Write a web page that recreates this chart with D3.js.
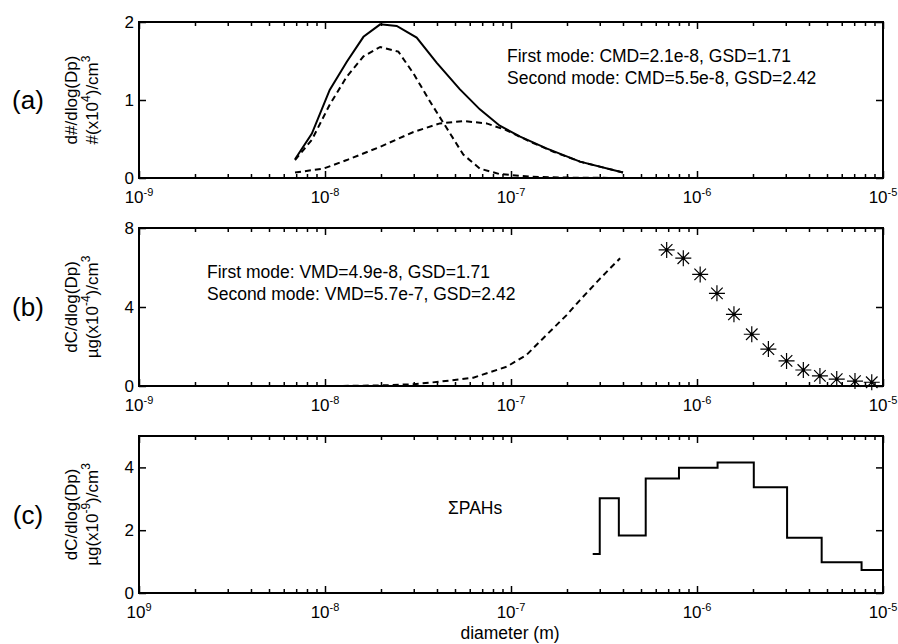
<!DOCTYPE html>
<html>
<head>
<meta charset="utf-8">
<script src="https://cdn.jsdelivr.net/npm/d3@7"></script>
<style>
  body { margin: 0; background: #fff; }
  svg { display: block; font-family: "Liberation Sans", Arial, sans-serif; }
</style>
</head>
<body>
<div id="root"></div>
<script>
// ---- data ----
// (a) number distribution, #(x10^4)/cm3
const totalDiam = [6.9e-9, 8.5e-9, 1.06e-8, 1.31e-8, 1.61e-8, 1.98e-8, 2.43e-8, 3.11e-8, 3.98e-8, 5.3e-8, 6.8e-8, 8.7e-8, 1.12e-7, 1.55e-7, 2.35e-7, 4.0e-7]
const totalNum = [0.24, 0.57, 1.13, 1.49, 1.81, 1.97, 1.95, 1.80, 1.48, 1.14, 0.88, 0.67, 0.53, 0.38, 0.21, 0.07]
const mode1Diam = [6.9e-9, 8.5e-9, 1.06e-8, 1.31e-8, 1.61e-8, 1.98e-8, 2.48e-8, 2.99e-8, 3.67e-8, 4.51e-8, 5.54e-8, 6.8e-8, 8.7e-8, 1.27e-7, 2.0e-7, 4.0e-7]
const mode1Num = [0.23, 0.49, 0.94, 1.30, 1.56, 1.68, 1.62, 1.34, 0.98, 0.64, 0.30, 0.12, 0.05, 0.017, 0.005, 0.0]
const mode2Diam = [6.9e-9, 9.8e-9, 1.31e-8, 1.98e-8, 2.99e-8, 4.15e-8, 5.54e-8, 7.39e-8, 9.4e-8, 1.27e-7, 1.69e-7, 2.35e-7, 4.0e-7]
const mode2Num = [0.07, 0.12, 0.23, 0.40, 0.59, 0.70, 0.73, 0.70, 0.615, 0.465, 0.337, 0.21, 0.07]

// (b) mass distribution, ug(x10^-4)/cm3
const massDashDiam = [1.1e-8, 2e-8, 3e-8, 4.15e-8, 6.27e-8, 9.5e-8, 1.21e-7, 1.55e-7, 1.99e-7, 2.35e-7, 3.02e-7, 3.86e-7]
const massDashConc = [0.0, 0.03, 0.09, 0.22, 0.42, 0.98, 1.57, 2.58, 3.59, 4.35, 5.45, 6.47]
const starDiam = [6.87e-7, 8.44e-7, 1.04e-6, 1.28e-6, 1.58e-6, 1.97e-6, 2.42e-6, 3.03e-6, 3.73e-6, 4.58e-6, 5.64e-6, 7.07e-6, 8.7e-6]
const starConc = [6.89, 6.47, 5.65, 4.69, 3.63, 2.62, 1.87, 1.27, 0.81, 0.51, 0.35, 0.25, 0.19]

// (c) sum of PAHs per stage, ug(x10^-9)/cm3
const binEdges = [2.75e-7, 3.0e-7, 3.8e-7, 5.3e-7, 8.0e-7, 1.29e-6, 2.02e-6, 3.05e-6, 4.68e-6, 7.67e-6, 1e-5]
const binConc = [1.24, 3.02, 1.83, 3.65, 3.99, 4.16, 3.37, 1.76, 0.98, 0.73]

// axes
const xMajor = [1e-9, 1e-8, 1e-7, 1e-6, 1e-5]
const xExpA = ["-9", "-8", "-7", "-6", "-5"]
const xExpC = ["9", "-8", "-7", "-6", "-5"]   // the printed figure drops the minus on 10^9
const yDomainA = [0, 2], yTicksA = [0, 1, 2]
const yDomainB = [0, 8], yTicksB = [0, 4, 8]
const yDomainC = [0, 5], yTicksC = [0, 2, 4]

const textA = ["First mode: CMD=2.1e-8, GSD=1.71", "Second mode: CMD=5.5e-8, GSD=2.42"]
const textB = ["First mode: VMD=4.9e-8, GSD=1.71", "Second mode: VMD=5.7e-7, GSD=2.42"]

// ---- drawing ----
const width = 898, height = 644
const left = 139, right = 883

const svg = d3.select("#root").append("svg").attr("width", width).attr("height", height)

const x = d3.scaleLog().domain([1e-9, 1e-5]).range([left, right])

// minor log ticks 2..9 per decade
const xMinor = []
for (let k = -9; k < -5; k++) {
    for (let m = 2; m < 10; m++) xMinor.push(m * Math.pow(10, k))
}

function makePanel(top, bottom, yDomain, yTicks, exps, letter, labelLines) {
    const y = d3.scaleLinear().domain(yDomain).range([bottom, top])
    const g = svg.append("g")

    // ticks, all pointing inward
    const axes = [
        [d3.axisBottom(x).tickValues(xMajor).tickSize(-7), `translate(0,${bottom})`],
        [d3.axisBottom(x).tickValues(xMinor).tickSize(-4), `translate(0,${bottom})`],
        [d3.axisTop(x).tickValues(xMajor).tickSize(-7), `translate(0,${top})`],
        [d3.axisTop(x).tickValues(xMinor).tickSize(-4), `translate(0,${top})`],
        [d3.axisRight(y).tickValues(yTicks).tickSize(-7), `translate(${right},0)`]
    ]
    axes.forEach(([ax, tr]) => {
        const a = g.append("g").attr("transform", tr).call(ax.tickFormat(""))
        a.select(".domain").remove()
        a.selectAll("line").attr("stroke", "#000").attr("stroke-width", 1.5)
    })
    const yl = g.append("g").attr("transform", `translate(${left},0)`)
        .call(d3.axisLeft(y).tickValues(yTicks).tickSize(-7).tickPadding(5).tickFormat(d3.format("d")))
    yl.select(".domain").remove()
    yl.selectAll("line").attr("stroke", "#000").attr("stroke-width", 1.5)
    yl.selectAll("text").attr("font-size", 17).attr("fill", "#000").attr("font-family", null)

    // x tick labels like 10^-8
    xMajor.forEach((v, i) => {
        const t = g.append("text").attr("x", x(v)).attr("y", bottom + 25)
            .attr("text-anchor", "middle").attr("font-size", 17)
        t.append("tspan").text("10")
        t.append("tspan").attr("dy", -7).attr("font-size", 11).text(exps[i])
    })

    // frame
    g.append("rect").attr("x", left).attr("y", top)
        .attr("width", right - left).attr("height", bottom - top)
        .attr("fill", "none").attr("stroke", "#000").attr("stroke-width", 2)

    // panel letter
    g.append("text").attr("x", 28).attr("y", (top + bottom) / 2 + 9)
        .attr("text-anchor", "middle").attr("font-size", 26).text(letter)

    // two-line rotated y label, superscripts shift up then back down
    const cy = (top + bottom) / 2
    labelLines.forEach((parts, i) => {
        const t = g.append("text")
            .attr("transform", `translate(${i == 0 ? 77 : 98},${cy}) rotate(-90)`)
            .attr("text-anchor", "middle").attr("font-size", 17)
        let shift = 0
        parts.forEach(p => {
            if (p.sup) {
                t.append("tspan").attr("dy", -8 - shift).attr("font-size", 12).text(p.sup)
                shift = -8
            } else {
                t.append("tspan").attr("dy", -shift).text(p.t)
                shift = 0
            }
        })
    })
    return y
}

function writeLines(lines, x0, y0) {
    lines.forEach((s, i) => {
        svg.append("text").attr("x", x0).attr("y", y0 + i * 22)
            .attr("font-size", 17.5).text(s)
    })
}

// panel (a)
const yA = makePanel(22, 178, yDomainA, yTicksA, xExpA, "(a)", [
    [{ t: "d#/dlog(Dp)" }],
    [{ t: "#(x10" }, { sup: "4" }, { t: ")/cm" }, { sup: "3" }]
])
const lineA = d3.line().x(d => x(d[0])).y(d => yA(d[1]))
svg.append("path").attr("d", lineA(d3.zip(totalDiam, totalNum)))
    .attr("fill", "none").attr("stroke", "#000").attr("stroke-width", 2)
svg.append("path").attr("d", lineA(d3.zip(mode1Diam, mode1Num)))
    .attr("fill", "none").attr("stroke", "#000").attr("stroke-width", 2).attr("stroke-dasharray", "6,4")
svg.append("path").attr("d", lineA(d3.zip(mode2Diam, mode2Num)))
    .attr("fill", "none").attr("stroke", "#000").attr("stroke-width", 2).attr("stroke-dasharray", "6,4")
writeLines(textA, 507, 62)

// panel (b)
const yB = makePanel(228, 386, yDomainB, yTicksB, xExpA, "(b)", [
    [{ t: "dC/dlog(Dp)" }],
    [{ t: "\u00b5g(x10" }, { sup: "-4" }, { t: ")/cm" }, { sup: "3" }]
])
const lineB = d3.line().x(d => x(d[0])).y(d => yB(d[1]))
svg.append("path").attr("d", lineB(d3.zip(massDashDiam, massDashConc)))
    .attr("fill", "none").attr("stroke", "#000").attr("stroke-width", 2).attr("stroke-dasharray", "6,4")
const r = 8, dg = r * 0.72
const starPath = `M${-r},0H${r}M0,${-r}V${r}M${-dg},${-dg}L${dg},${dg}M${-dg},${dg}L${dg},${-dg}`
const stars = svg.append("g").selectAll("g").data(d3.zip(starDiam, starConc)).join("g")
    .attr("transform", d => `translate(${x(d[0])},${yB(d[1])})`)
stars.append("path").attr("d", starPath).attr("fill", "none").attr("stroke", "#000").attr("stroke-width", 1.2)
stars.append("circle").attr("r", 1.6).attr("fill", "#000")
writeLines(textB, 207, 278)

// panel (c)
const yC = makePanel(436, 593, yDomainC, yTicksC, xExpC, "(c)", [
    [{ t: "dC/dlog(Dp)" }],
    [{ t: "\u00b5g(x10" }, { sup: "-9" }, { t: ")/cm" }, { sup: "3" }]
])
const stepPts = binConc.map((v, i) => [binEdges[i], v])
stepPts.push([binEdges[binEdges.length - 1], binConc[binConc.length - 1]])
const lineC = d3.line().x(d => x(d[0])).y(d => yC(d[1])).curve(d3.curveStepAfter)
svg.append("path").attr("d", lineC(stepPts))
    .attr("fill", "none").attr("stroke", "#000").attr("stroke-width", 2)
svg.append("text").attr("x", 448).attr("y", 514).attr("font-size", 17.5).text("\u03a3PAHs")

svg.append("text").attr("x", 510).attr("y", 639).attr("text-anchor", "middle")
    .attr("font-size", 17.5).text("diameter (m)")
</script>
</body>
</html>
